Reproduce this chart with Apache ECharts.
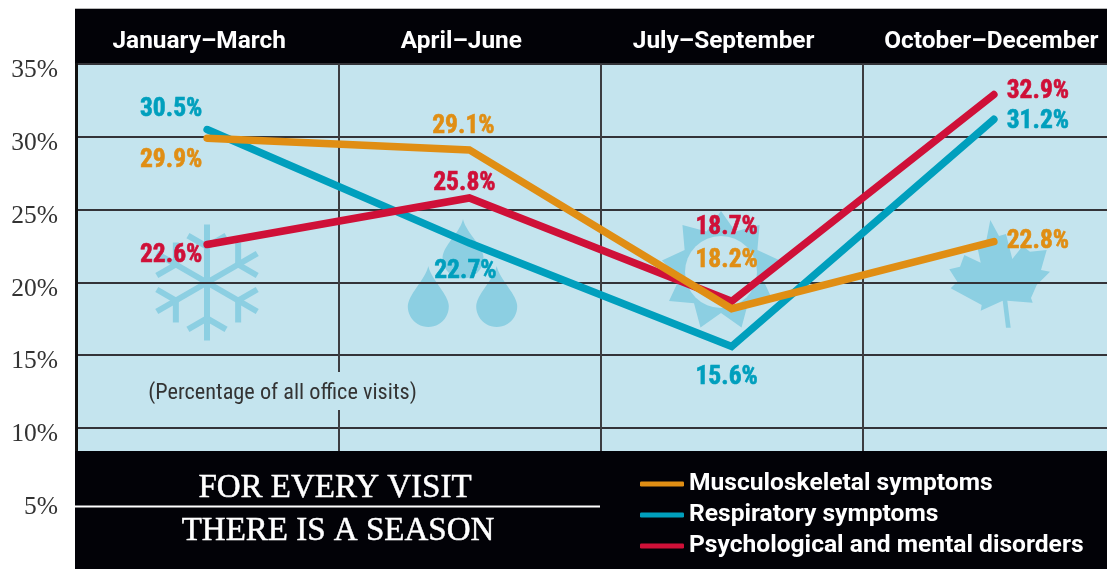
<!DOCTYPE html>
<html><head><meta charset="utf-8">
<style>html,body{margin:0;padding:0;background:#fff}#c{width:1107px;height:569px}</style>
<script src="https://cdn.jsdelivr.net/npm/echarts@6/dist/echarts.min.js"></script>
</head><body><div id="c"></div>
<script>
var quarters = ['January–March','April–June','July–September','October–December'];
var yTicks = [5,10,15,20,25,30,35];
var musculoskeletal = [29.9,29.1,18.2,22.8];
var respiratory = [30.5,22.7,15.6,31.2];
var psychological = [22.6,25.8,18.7,32.9];
var seriesNames = ['Musculoskeletal symptoms','Respiratory symptoms','Psychological and mental disorders'];
var noteText = '(Percentage of all office visits)';
var titleLines = ['FOR EVERY VISIT','THERE IS A SEASON'];

var ORANGE='#e08e14', TEAL='#009fbd', RED='#cf1038', ICON='#8ccfe2', BG='#c4e4ee', BLACK='#020207';
var labelFont='"Roboto Condensed","Liberation Sans",sans-serif';

var musOff=[[-36,22],[-6,-23],[-5,-48],[44,0]];
var resOff=[[-36,-20],[-4,29],[-5,31],[44,2]];
var psyOff=[[-36,11],[-5,-14],[-5,-74],[44,-3]];

function mk(name,vals,offs,color,z){
  return {type:'line',name:name,z:z,symbol:'circle',symbolSize:1,showSymbol:true,
    clip:false,animation:false,silent:true,
    data:vals.map(function(v,i){return {value:v,label:{offset:offs[i]}};}),
    itemStyle:{color:color},
    lineStyle:{color:color,width:7.5,cap:'round',join:'miter'},
    label:{show:true,position:'inside',color:color,fontFamily:labelFont,fontWeight:'bold',fontSize:25.5,
      textBorderColor:color,textBorderWidth:0.6,
      align:'center',verticalAlign:'middle',
      formatter:function(p){return p.value.toFixed(1)+'%';}}};
}
function drop(x,tip,cy,r){
  var p=[],n=24,i,t,u;
  for(i=0;i<=n;i++){t=i/n;u=1-t;
    p.push([u*u*u*x+3*u*u*t*(x-3)+3*u*t*t*(x-r)+t*t*t*(x-r),
            u*u*u*tip+3*u*u*t*(tip+14)+3*u*t*t*(cy-12)+t*t*t*cy]);}
  for(i=1;i<n;i++){var a=Math.PI-Math.PI*i/n; p.push([x+r*Math.cos(a),cy+r*Math.sin(a)]);}
  for(i=n;i>=0;i--){t=i/n;u=1-t;
    p.push([u*u*u*x+3*u*u*t*(x+3)+3*u*t*t*(x+r)+t*t*t*(x+r),
            u*u*u*tip+3*u*u*t*(tip+14)+3*u*t*t*(cy-12)+t*t*t*cy]);}
  return {type:'polygon',z:-4,shape:{points:p},style:{fill:ICON}};
}
function snow(cx,cy,R){
  var out=[];
  function seg(x1,y1,x2,y2){out.push({type:'line',z:-4,shape:{x1:x1,y1:y1,x2:x2,y2:y2},style:{stroke:ICON,lineWidth:6}});}
  for(var k=0;k<6;k++){
    var a=Math.PI/2+k*Math.PI/3,c=Math.cos(a),s=Math.sin(a);
    seg(cx,cy,cx+R*c,cy+R*s);
    var bx=cx+R*0.62*c,by=cy+R*0.62*s;
    [-1,1].forEach(function(sg){var b=a+sg*Math.PI/3;seg(bx,by,bx+22*Math.cos(b),by+22*Math.sin(b));});
  }
  return out;
}
function sun(cx,cy,n,Ro,Ri){
  var p=[];
  for(var k=0;k<n*2;k++){var a=-Math.PI/2+k*Math.PI/n,r=k%2?Ri:Ro;p.push([cx+r*Math.cos(a),cy+r*Math.sin(a)]);}
  return {type:'polygon',z:-4,shape:{points:p},style:{fill:ICON}};
}
var leaf=[[990.3,220],[999,236],[1006,234],[1012.3,259],[1022.7,246],[1030,251.7],[1046.7,250],[1041,270],[1050,271.7],[1036.7,285],[1031,298],[1032.7,302.7],[1007.3,300.7],[1010.7,327.7],[1006,327.7],[1002.7,300.7],[980.7,310.7],[981.7,305],[950.7,288.3],[957.3,281.7],[949.3,269.3],[960,266.7],[964.3,255],[980.7,262.7],[977.3,246.7],[985,247.3]];

var chart=echarts.init(document.getElementById('c'),null,{renderer:'canvas'});
chart.setOption({
  animation:false,backgroundColor:'#fff',
  grid:{left:76,top:64,width:1049,height:436.8,outerBoundsMode:'none'},
  xAxis:{type:'category',position:'top',data:quarters,boundaryGap:true,
    axisLine:{show:false},axisTick:{show:false},
    splitLine:{show:true,lineStyle:{color:'#3c3c40',width:2}},
    axisLabel:{interval:0,margin:10,hideOverlap:false,color:'#fff',
      formatter:function(v){return '{'+(v===quarters[3]?'o':'a')+'|'+v+'}';},
      rich:{a:{color:'#fff',fontFamily:'Roboto',fontWeight:'bold',fontSize:24.4,padding:[0,16,0,0]},
            o:{color:'#fff',fontFamily:'Roboto',fontWeight:'bold',fontSize:24.4,padding:[0,5,0,0]}}}},
  yAxis:{type:'value',min:yTicks[0],max:yTicks[yTicks.length-1],interval:5,
    axisLine:{show:true,lineStyle:{color:'#111',width:3}},axisTick:{show:false},
    splitLine:{show:true,lineStyle:{color:'#333338',width:2}},
    axisLabel:{margin:18,color:'#333',fontFamily:'"Liberation Serif",serif',fontSize:25.5,verticalAlign:'top',lineHeight:13,
      formatter:'{value}%'}},
  legend:{show:true,orient:'vertical',left:640,top:471.5,padding:0,z:20,itemWidth:44,itemHeight:5,itemGap:6,
    icon:'roundRect',data:seriesNames,selectedMode:false,
    textStyle:{color:'#fff',fontFamily:'Roboto',fontWeight:'bold',fontSize:24.6,lineHeight:21}},
  series:[mk(seriesNames[0],musculoskeletal,musOff,ORANGE,6),
          mk(seriesNames[1],respiratory,resOff,TEAL,4),
          mk(seriesNames[2],psychological,psyOff,RED,5)],
  graphic:[
    {type:'rect',z:-5,shape:{x:76,y:64,width:1031,height:390},style:{fill:BG}},
    {type:'rect',z:-5,shape:{x:75,y:9,width:1032,height:55},style:{fill:BLACK}},
    {type:'rect',z:-5,shape:{x:75,y:8,width:1032,height:1},style:{fill:'#b8b8b8'}}
  ].concat(snow(207,282.5,58)).concat([
    drop(463,219,258,20.5),drop(428.3,266,306.5,20.5),drop(496.7,266,306.5,20.5),
    sun(721,271,9,60,42),
    {type:'circle',z:-4,shape:{cx:721,cy:272,r:36},style:{fill:BG}},
    {type:'polygon',z:-4,shape:{points:leaf},style:{fill:ICON}},
    {type:'rect',z:3,shape:{x:140,y:372,width:285,height:38},style:{fill:BG}},
    {type:'text',z:3,style:{x:282.5,y:393,text:noteText,fill:'#333',font:'22.3px "Roboto Condensed","Liberation Sans",sans-serif',textAlign:'center',textVerticalAlign:'middle'}},
    {type:'rect',z:10,shape:{x:75,y:451,width:1032,height:118},style:{fill:BLACK}},
    {type:'rect',z:11,shape:{x:75,y:505.5,width:525,height:2},style:{fill:'#fff'}},
    {type:'text',z:11,style:{x:335,y:488,text:titleLines[0],fill:'#fff',stroke:'#fff',lineWidth:0.5,font:'33px "Liberation Serif",serif',textAlign:'center',textVerticalAlign:'middle'}},
    {type:'text',z:11,style:{x:338,y:531,text:titleLines[1],fill:'#fff',stroke:'#fff',lineWidth:0.5,font:'33px "Liberation Serif",serif',textAlign:'center',textVerticalAlign:'middle'}}
  ])
});
</script></body></html>
